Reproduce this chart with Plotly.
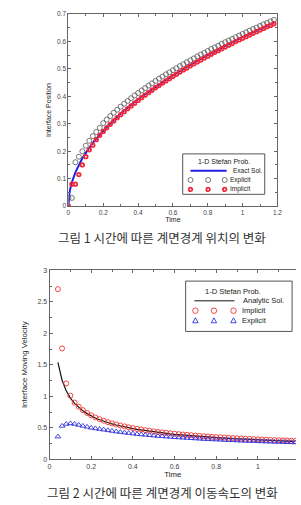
import plotly.graph_objects as go

# ---------------- data ----------------
TIME_POS = [0.00, 0.02, 0.04, 0.06, 0.08, 0.10, 0.12, 0.14, 0.16, 0.18,
            0.20, 0.22, 0.24, 0.26, 0.28, 0.30, 0.32, 0.34, 0.36, 0.38,
            0.40, 0.42, 0.44, 0.46, 0.48, 0.50, 0.52, 0.54, 0.56, 0.58,
            0.60, 0.62, 0.64, 0.66, 0.68, 0.70, 0.72, 0.74, 0.76, 0.78,
            0.80, 0.82, 0.84, 0.86, 0.88, 0.90, 0.92, 0.94, 0.96, 0.98,
            1.00, 1.02, 1.04, 1.06, 1.08, 1.10, 1.12, 1.14, 1.16, 1.18]

EXACT_T = [0.0, 0.002, 0.005, 0.01] + TIME_POS[1:]
EXACT_POS = [0.0, 0.028, 0.043, 0.062,
             0.087, 0.123, 0.151, 0.174, 0.194, 0.213, 0.230, 0.246, 0.261,
             0.275, 0.288, 0.301, 0.314, 0.325, 0.337, 0.348, 0.359, 0.369, 0.379,
             0.389, 0.399, 0.408, 0.417, 0.426, 0.435, 0.443, 0.452, 0.460, 0.468,
             0.476, 0.484, 0.492, 0.500, 0.507, 0.515, 0.522, 0.529, 0.536, 0.543,
             0.550, 0.557, 0.564, 0.570, 0.577, 0.583, 0.590, 0.596, 0.603, 0.609,
             0.615, 0.621, 0.627, 0.633, 0.639, 0.645, 0.651, 0.657, 0.662, 0.668]

EXPLICIT_POS = [0.030, 0.030, 0.160, 0.180, 0.200, 0.220, 0.238, 0.255, 0.270, 0.285,
                0.302, 0.315, 0.328, 0.340, 0.351, 0.362, 0.373, 0.383, 0.393, 0.403,
                0.412, 0.421, 0.430, 0.439, 0.447, 0.456, 0.464, 0.472, 0.480, 0.487,
                0.495, 0.502, 0.510, 0.517, 0.524, 0.531, 0.538, 0.545, 0.552, 0.558,
                0.565, 0.572, 0.578, 0.584, 0.591, 0.597, 0.603, 0.609, 0.615, 0.621,
                0.627, 0.633, 0.639, 0.645, 0.650, 0.656, 0.662, 0.667, 0.673, 0.678]

IMPLICIT_POS = [0.000, 0.080, 0.080, 0.115, 0.150, 0.180, 0.205, 0.222, 0.242, 0.258,
                0.272, 0.285, 0.298, 0.310, 0.322, 0.333, 0.344, 0.355, 0.365, 0.375,
                0.385, 0.395, 0.404, 0.413, 0.422, 0.431, 0.439, 0.448, 0.456, 0.464,
                0.472, 0.480, 0.488, 0.496, 0.503, 0.511, 0.518, 0.525, 0.532, 0.539,
                0.546, 0.553, 0.560, 0.566, 0.573, 0.579, 0.586, 0.592, 0.599, 0.605,
                0.611, 0.617, 0.623, 0.629, 0.635, 0.641, 0.647, 0.653, 0.658, 0.664]

TIME_VEL = TIME_POS[2:]

ANALYTIC_VEL = [1.538, 1.255, 1.087, 0.972, 0.888, 0.822, 0.769, 0.725,
                0.688, 0.656, 0.628, 0.603, 0.581, 0.561, 0.544, 0.527, 0.513, 0.499,
                0.486, 0.474, 0.464, 0.453, 0.444, 0.435, 0.426, 0.418, 0.411, 0.404,
                0.397, 0.391, 0.384, 0.379, 0.373, 0.368, 0.362, 0.357, 0.353, 0.348,
                0.344, 0.340, 0.336, 0.332, 0.328, 0.324, 0.321, 0.317, 0.314, 0.311,
                0.308, 0.304, 0.302, 0.299, 0.296, 0.293, 0.291, 0.288, 0.286, 0.283]

IMPLICIT_VEL = [2.700, 1.760, 1.205, 1.010, 0.900, 0.835, 0.780, 0.735,
                0.697, 0.665, 0.637, 0.612, 0.590, 0.570, 0.553, 0.536, 0.522, 0.508,
                0.495, 0.483, 0.473, 0.462, 0.453, 0.444, 0.435, 0.427, 0.420, 0.413,
                0.406, 0.400, 0.393, 0.388, 0.382, 0.377, 0.371, 0.366, 0.362, 0.357,
                0.353, 0.349, 0.345, 0.341, 0.337, 0.333, 0.330, 0.326, 0.323, 0.320,
                0.317, 0.313, 0.311, 0.308, 0.305, 0.302, 0.300, 0.297, 0.295, 0.292]

EXPLICIT_VEL = [0.360, 0.530, 0.560, 0.570, 0.560, 0.545, 0.530, 0.515,
                0.500, 0.490, 0.480, 0.470, 0.460, 0.450, 0.440, 0.432, 0.424, 0.416,
                0.408, 0.400, 0.394, 0.388, 0.382, 0.376, 0.370, 0.365, 0.360, 0.355,
                0.350, 0.346, 0.342, 0.338, 0.334, 0.330, 0.326, 0.322, 0.319, 0.316,
                0.313, 0.310, 0.307, 0.304, 0.301, 0.298, 0.295, 0.292, 0.290, 0.288,
                0.286, 0.283, 0.281, 0.279, 0.277, 0.275, 0.273, 0.271, 0.269, 0.267]

assert len(EXACT_T) == len(EXACT_POS)
assert len(TIME_POS) == len(EXPLICIT_POS) == len(IMPLICIT_POS)
assert len(TIME_VEL) == len(ANALYTIC_VEL) == len(IMPLICIT_VEL) == len(EXPLICIT_VEL)

TICKS_X = [0, 0.2, 0.4, 0.6, 0.8, 1, 1.2]
TICKLABELS_X = ["0", "0.2", "0.4", "0.6", "0.8", "1", "1.2"]
TICKS_Y1 = [0, 0.1, 0.2, 0.3, 0.4, 0.5, 0.6, 0.7]
TICKLABELS_Y1 = ["0", "0.1", "0.2", "0.3", "0.4", "0.5", "0.6", "0.7"]
TICKS_Y2 = [0, 0.5, 1, 1.5, 2, 2.5, 3]
TICKLABELS_Y2 = ["0", "0.5", "1", "1.5", "2", "2.5", "3"]

CAPTION1 = "그림 1 시간에 따른 계면경계 위치의 변화"
CAPTION2 = "그림 2 시간에 따른 계면경계 이동속도의 변화"
LEGEND_TITLE = "1-D Stefan Prob."
LEGEND1_LABELS = ["Exact Sol.", "Explicit", "Implicit"]
LEGEND2_LABELS = ["Analytic Sol.", "Implicit", "Explicit"]

# ---------------- styling ----------------
W, H = 301, 505
FONT = "Liberation Sans, Arial, sans-serif"
KFONT = "Noto Sans CJK KR, sans-serif"
AXC = "#666666"
TXC = "#444444"
C_EXACT = "#1f1fe6"
C_EXPL1 = "#555555"
C_IMPL1 = "#f02838"
C_ANALYTIC = "#111111"
C_IMPL2 = "#ee3333"
C_EXPL2 = "#3333dd"


def px(x):
    return x / W


def py(y):
    return 1 - y / H


fig = go.Figure()

fig.add_trace(go.Scatter(x=EXACT_T, y=EXACT_POS, mode="lines", name=LEGEND1_LABELS[0],
                         line=dict(color=C_EXACT, width=2), xaxis="x", yaxis="y"))
fig.add_trace(go.Scatter(x=TIME_POS, y=EXPLICIT_POS, mode="markers", name=LEGEND1_LABELS[1],
                         marker=dict(symbol="circle-open", size=5, color=C_EXPL1,
                                     line=dict(width=0.8)),
                         xaxis="x", yaxis="y"))
fig.add_trace(go.Scatter(x=TIME_POS, y=IMPLICIT_POS, mode="markers", name=LEGEND1_LABELS[2],
                         marker=dict(symbol="circle-open", size=3.5, color=C_IMPL1,
                                     line=dict(width=1.8)),
                         xaxis="x", yaxis="y"))

fig.add_trace(go.Scatter(x=TIME_VEL, y=ANALYTIC_VEL, mode="lines", name=LEGEND2_LABELS[0],
                         line=dict(color=C_ANALYTIC, width=1.2), xaxis="x2", yaxis="y2"))
fig.add_trace(go.Scatter(x=TIME_VEL, y=IMPLICIT_VEL, mode="markers", name=LEGEND2_LABELS[1],
                         marker=dict(symbol="circle-open", size=5, color=C_IMPL2,
                                     line=dict(width=0.9)),
                         xaxis="x2", yaxis="y2"))
fig.add_trace(go.Scatter(x=TIME_VEL, y=EXPLICIT_VEL, mode="markers", name=LEGEND2_LABELS[2],
                         marker=dict(symbol="triangle-up-open", size=5, color=C_EXPL2,
                                     line=dict(width=0.9)),
                         xaxis="x2", yaxis="y2"))


def axis_common(tsize, ttsize, standoff, **kw):
    d = dict(showline=True, linecolor=AXC, linewidth=1, ticks="inside", ticklen=3,
             tickcolor=AXC, tickwidth=0.8, showgrid=False, zeroline=False,
             tickfont=dict(family=FONT, size=tsize, color=TXC),
             title_font=dict(family=FONT, size=ttsize, color="#222222"),
             title_standoff=standoff)
    d.update(kw)
    return d


fig.update_layout(
    width=W, height=H,
    margin=dict(l=0, r=0, t=0, b=0),
    paper_bgcolor="white", plot_bgcolor="white",
    showlegend=False,
    xaxis=axis_common(6.5, 7, 2, domain=[px(68), px(282)], anchor="y", range=[0, 1.2],
                      tickvals=TICKS_X, ticktext=TICKLABELS_X, mirror="allticks",
                      minor=dict(dtick=0.1, ticks="inside", ticklen=2, tickcolor=AXC),
                      title_text="Time"),
    yaxis=axis_common(6.5, 7, 4, domain=[py(205), py(10)], anchor="x", range=[0, 0.7],
                      tickvals=TICKS_Y1, ticktext=TICKLABELS_Y1, mirror="allticks",
                      minor=dict(dtick=0.05, ticks="inside", ticklen=2, tickcolor=AXC),
                      title_text="Interface Position"),
    xaxis2=axis_common(7, 7.8, 2, domain=[px(48.7), 1.0], anchor="y2", range=[0, 1.183],
                       tickvals=TICKS_X, ticktext=TICKLABELS_X, mirror="allticks",
                       minor=dict(dtick=0.1, ticks="inside", ticklen=2, tickcolor=AXC),
                       title_text="Time"),
    yaxis2=axis_common(7, 7.8, 8, domain=[py(461.7), py(270)], anchor="x2", range=[0, 3],
                       tickvals=TICKS_Y2, ticktext=TICKLABELS_Y2, mirror=False,
                       minor=dict(dtick=0.25, ticks="inside", ticklen=2, tickcolor=AXC),
                       title_text="Interface Moving Velocity"),
)

# ---------------- captions ----------------
annotations = [
    dict(text=CAPTION1, xref="paper", yref="paper", x=px(164), y=py(237),
         xanchor="center", yanchor="middle", showarrow=False,
         font=dict(family=KFONT, size=12.5, color="#333333")),
    dict(text=CAPTION2, xref="paper", yref="paper", x=px(164), y=py(495),
         xanchor="center", yanchor="middle", showarrow=False,
         font=dict(family=KFONT, size=12.5, color="#333333")),
]
shapes = []


# ---------------- hand-drawn legend boxes (MATLAB style) ----------------
def legend_text(x, y, text, size, anchor="left"):
    annotations.append(dict(text=text, xref="paper", yref="paper", x=px(x), y=py(y),
                            xanchor=anchor, yanchor="middle", showarrow=False,
                            font=dict(family=FONT, size=size, color="#222222")))


def legend_box(x0, y0, x1, y1):
    shapes.append(dict(type="rect", xref="paper", yref="paper",
                       x0=px(x0), x1=px(x1), y0=py(y1), y1=py(y0),
                       line=dict(color="#555555", width=1), fillcolor="white",
                       layer="above"))


def legend_line(x0, x1, y, color, width):
    shapes.append(dict(type="line", xref="paper", yref="paper",
                       x0=px(x0), x1=px(x1), y0=py(y), y1=py(y),
                       line=dict(color=color, width=width), layer="above"))


def legend_circle(x, y, d, color, width):
    shapes.append(dict(type="circle", xref="paper", yref="paper",
                       xsizemode="pixel", ysizemode="pixel",
                       xanchor=px(x), yanchor=py(y),
                       x0=-d / 2, x1=d / 2, y0=-d / 2, y1=d / 2,
                       line=dict(color=color, width=width), layer="above"))


def legend_triangle(x, y, s, color, width):
    h = s / 2
    shapes.append(dict(type="path", xref="paper", yref="paper",
                       xsizemode="pixel", ysizemode="pixel",
                       xanchor=px(x), yanchor=py(y),
                       path=f"M{-h},{-h * 0.8} L{h},{-h * 0.8} L0,{h} Z",
                       line=dict(color=color, width=width), layer="above"))


# legend 1
legend_box(185, 152, 269, 193)
legend_text(227, 159.5, LEGEND_TITLE, 7, "center")
legend_line(193, 230, 169, C_EXACT, 2)
legend_text(234, 169, LEGEND1_LABELS[0], 6.5)
for mx in (193, 211, 228):
    legend_circle(mx, 178.5, 5, C_EXPL1, 0.8)
    legend_circle(mx, 188, 3.5, C_IMPL1, 1.8)
legend_text(231, 178.5, LEGEND1_LABELS[1], 6.5)
legend_text(231, 188, LEGEND1_LABELS[2], 6.5)

# legend 2
legend_box(188, 281, 297, 332)
legend_text(237, 291.5, LEGEND_TITLE, 7.5, "center")
legend_line(197, 238, 301, C_ANALYTIC, 1)
legend_text(245, 301, LEGEND2_LABELS[0], 7.5)
for mx in (198, 217, 237):
    legend_circle(mx, 311, 5.5, C_IMPL2, 0.9)
    legend_triangle(mx, 321, 5.5, C_EXPL2, 0.9)
legend_text(244, 311, LEGEND2_LABELS[1], 7.5)
legend_text(244, 321, LEGEND2_LABELS[2], 7.5)

fig.update_layout(annotations=annotations, shapes=shapes)

fig.write_html("out.html")
